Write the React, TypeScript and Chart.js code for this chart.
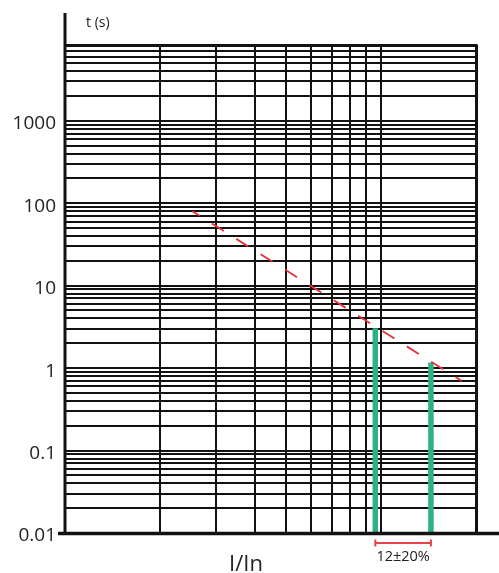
import React, { useEffect, useRef } from "react";
import { Chart, registerables } from "chart.js";

Chart.register(...registerables);

// Axis ranges / grid
const xMin = 1;
const xMax = 20;
const xGridValues = [1, 2, 3, 4, 5, 6, 7, 8, 9, 10, 20];
const yMin = 0.01;
const yMax = 8300;
const yDecades = [0.01, 0.1, 1, 10, 100, 1000];
const yTickLabels = ["0.01", "0.1", "1", "10", "100", "1000"];
const gridMantissas = [1, 2, 3, 4, 5, 6, 7, 8, 9];

// Tripping curve (red dashed)
const curveI = [2.53, 18.0];
const curveT = [80, 0.7];

// Instantaneous trip limits (green bars)
const tripI = [9.6, 14.4];
const tripT = [3.05, 1.17];

const bracketLabel = "12±20%";
const xTitle = "I/In";
const yTitle = "t (s)";

const FONT = '"Open Sans", "DejaVu Sans", sans-serif';

function buildYTicks() {
  const out: number[] = [];
  yDecades.forEach((d) => {
    gridMantissas.forEach((m) => {
      const v = Number((m * d).toPrecision(4));
      if (v >= yMin && v <= yMax) out.push(v);
    });
  });
  return out;
}

const overlayPlugin = {
  id: "overlay",
  afterDraw(chart: any) {
    const ctx = chart.ctx;
    const { left, right, top, bottom } = chart.chartArea;
    const xs = chart.scales.x;
    ctx.save();
    ctx.lineCap = "butt";
    ctx.strokeStyle = "#141210";
    // left axis
    ctx.lineWidth = 3;
    ctx.beginPath();
    ctx.moveTo(left, 13);
    ctx.lineTo(left, bottom);
    ctx.stroke();
    // top border
    ctx.beginPath();
    ctx.moveTo(left, top + 0.5);
    ctx.lineTo(right + 1.5, top + 0.5);
    ctx.stroke();
    // right border
    ctx.beginPath();
    ctx.moveTo(right + 0.5, top);
    ctx.lineTo(right + 0.5, bottom);
    ctx.stroke();
    // bottom axis
    ctx.lineWidth = 3.5;
    ctx.beginPath();
    ctx.moveTo(left - 7, bottom + 0.5);
    ctx.lineTo(chart.width, bottom + 0.5);
    ctx.stroke();

    // bracket
    const x1 = xs.getPixelForValue(tripI[0]);
    const x2 = xs.getPixelForValue(tripI[1]);
    const by = bottom + 10;
    ctx.strokeStyle = "#e8414a";
    ctx.lineWidth = 2;
    ctx.beginPath();
    ctx.moveTo(x1, by);
    ctx.lineTo(x2, by);
    ctx.moveTo(x1, by - 3.5);
    ctx.lineTo(x1, by + 3.5);
    ctx.moveTo(x2, by - 3.5);
    ctx.lineTo(x2, by + 3.5);
    ctx.stroke();

    ctx.fillStyle = "#222";
    ctx.textAlign = "center";
    ctx.textBaseline = "alphabetic";
    ctx.font = `14.5px ${FONT}`;
    ctx.fillText(bracketLabel, (x1 + x2) / 2, bottom + 28);

    ctx.font = `22px ${FONT}`;
    ctx.fillText(xTitle, 246, 571);

    ctx.textAlign = "left";
    ctx.font = `14px ${FONT}`;
    ctx.fillText(yTitle, 86, 26.5);
    ctx.restore();
  },
};

export default function App() {
  const ref = useRef<HTMLCanvasElement | null>(null);

  useEffect(() => {
    if (!ref.current) return;
    const yTicks = buildYTicks();
    const barDatasets = tripI.map((xi, i) => ({
      type: "line" as const,
      data: [
        { x: xi, y: yMin },
        { x: xi, y: tripT[i] },
      ],
      borderColor: "#2db283",
      borderWidth: 5.5,
      borderCapStyle: "butt",
      pointRadius: 0,
      fill: false,
      order: 2,
    }));
    const chart = new Chart(ref.current, {
      type: "line",
      data: {
        datasets: [
          ...barDatasets,
          {
            data: curveI.map((x, i) => ({ x, y: curveT[i] })),
            borderColor: "#e5323a",
            borderWidth: 1.8,
            borderDash: [14.2, 14.6],
            borderDashOffset: 5.7,
            pointRadius: 0,
            fill: false,
            order: 1,
          },
        ] as any,
      },
      options: {
        animation: false,
        responsive: false,
        devicePixelRatio: 1,
        layout: { padding: { top: 45, right: 23, left: 0, bottom: 0 } },
        plugins: {
          legend: { display: false },
          tooltip: { enabled: false },
        },
        scales: {
          x: {
            type: "logarithmic",
            min: xMin,
            max: xMax,
            border: { display: false },
            grid: { color: "#141210", lineWidth: 2, drawTicks: false },
            ticks: { display: false },
            afterBuildTicks: (scale: any) => {
              scale.ticks = xGridValues.map((v) => ({ value: v }));
            },
            afterFit: (scale: any) => {
              scale.height = 40;
            },
          },
          y: {
            type: "logarithmic",
            min: yMin,
            max: yMax,
            border: { display: false },
            grid: { color: "#141210", lineWidth: 2, drawTicks: false },
            ticks: {
              autoSkip: false,
              padding: 9,
              labelOffset: 3,
              color: "#222",
              font: { family: FONT, size: 19 },
              callback: (value: any) => {
                const idx = yDecades.findIndex(
                  (d) => Math.abs(d - Number(value)) < d * 1e-6
                );
                return idx >= 0 ? yTickLabels[idx] : "";
              },
            },
            afterBuildTicks: (scale: any) => {
              scale.ticks = yTicks.map((v) => ({ value: v }));
            },
            afterFit: (scale: any) => {
              scale.width = 65;
            },
          },
        },
      } as any,
      plugins: [overlayPlugin],
    });
    return () => chart.destroy();
  }, []);

  return (
    <div
      style={{
        position: "fixed",
        left: 0,
        top: 0,
        width: 499,
        height: 573,
        background: "#fff",
      }}
    >
      <canvas ref={ref} width={499} height={573} style={{ width: 499, height: 573, display: "block" }} />
    </div>
  );
}
